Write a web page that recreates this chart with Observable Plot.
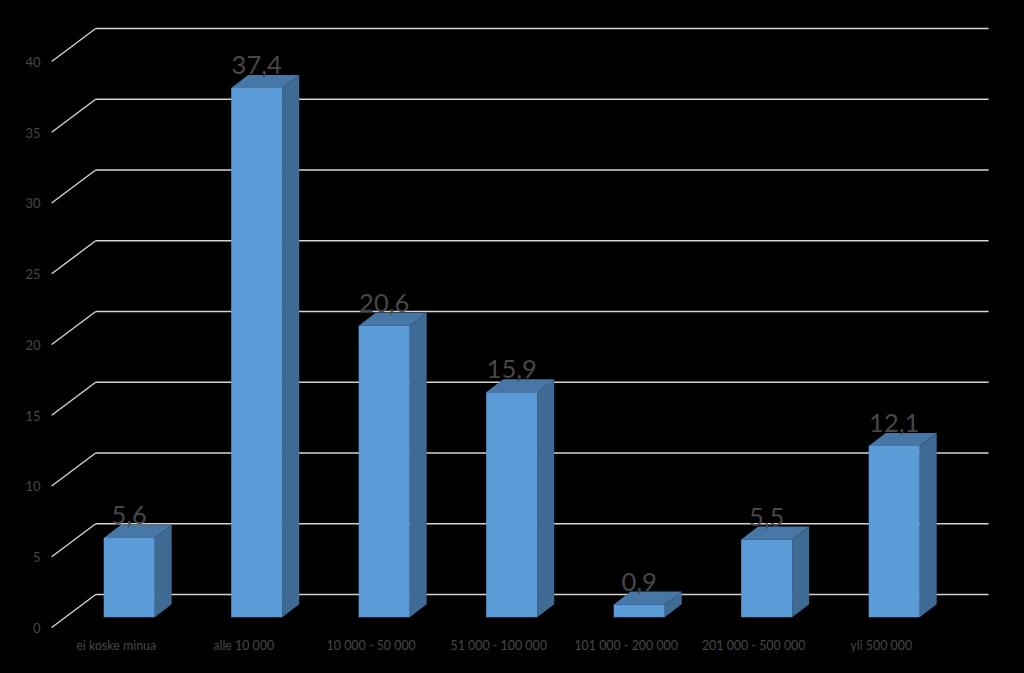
<!DOCTYPE html>
<html>
<head>
<meta charset="utf-8">
<script src="https://cdn.jsdelivr.net/npm/d3@7"></script>
<script src="https://cdn.jsdelivr.net/npm/@observablehq/plot@0.6"></script>
<style>
  html, body { margin: 0; padding: 0; background: #000; overflow: hidden; }
  svg { display: block; }
</style>
</head>
<body>
<div id="chart"></div>
<script>
const categories = ["ei koske minua", "alle 10 000", "10 000 - 50 000", "51 000 - 100 000", "101 000 - 200 000", "201 000 - 500 000", "yli 500 000"];
const values = [5.6, 37.4, 20.6, 15.9, 0.9, 5.5, 12.1];
const yTicks = [0, 5, 10, 15, 20, 25, 30, 35, 40];

// Pseudo-3D geometry, expressed in scale units
const halfW = 0.2;
const depthX = 0.1333, depthY = 0.919;
const wallLeft = -0.2627, wallRight = 6.74, wallBack = 1.61;
const floorLeft = -0.608, floorFront = -0.72;

const faces = values.flatMap((v, i) => {
  const l = i - halfW, r = i + halfW;
  const poly = (face, pts) => pts.map(([x, y]) => ({id: `${i}-${face}`, face, x, y}));
  return [
    ...poly("side", [[r, 0], [r + depthX, depthY], [r + depthX, v + depthY], [r, v], [r, 0]]),
    ...poly("top", [[l, v], [r, v], [r + depthX, v + depthY], [l + depthX, v + depthY], [l, v]]),
    ...poly("front", [[l, 0], [r, 0], [r, v], [l, v], [l, 0]])
  ];
});
const faceColor = {side: "#3F6A94", top: "#4677A6", front: "#5B9BD7"};
const labels = values.map((v, i) => ({i, v, text: String(v).replace(".", ",")}));
const gridStroke = "#D4D4D4";
const textColor = "#474747";

const chart = Plot.plot({
  width: 1024,
  height: 673,
  marginLeft: 40,
  marginTop: 0,
  marginRight: 0,
  marginBottom: 45,
  style: {background: "#000", fontFamily: "Lato, sans-serif"},
  x: {type: "linear", domain: [-0.5, 6.5], range: [64.95, 957.45]},
  y: {domain: [0, 40], range: [616.8, 50.8]},
  marks: [
    Plot.link(yTicks, {x1: () => floorLeft, y1: t => t + floorFront, x2: () => wallLeft, y2: t => t + wallBack, stroke: gridStroke, strokeWidth: 1.4}),
    Plot.link(yTicks, {x1: () => wallLeft, y1: t => t + wallBack, x2: () => wallRight, y2: t => t + wallBack, stroke: gridStroke, strokeWidth: 1.4}),
    Plot.line(faces, {x: "x", y: "y", z: "id", fill: d => faceColor[d.face], stroke: "none"}),
    Plot.axisY(yTicks, {anchor: "left", tickSize: 0, tickPadding: 0, dy: 11.5, fontSize: 13, color: textColor, label: null}),
    Plot.axisX(d3.range(categories.length), {anchor: "bottom", tickSize: 0, tickPadding: 13, dx: -13, fontSize: 12.4, color: textColor, label: null, tickFormat: i => categories[i]}),
    Plot.text(labels, {x: "i", y: d => d.v + depthY, text: "text", dy: -9, fontSize: 25.5, fill: textColor, textAnchor: "middle"})
  ]
});
document.getElementById("chart").append(chart);
</script>
</body>
</html>
